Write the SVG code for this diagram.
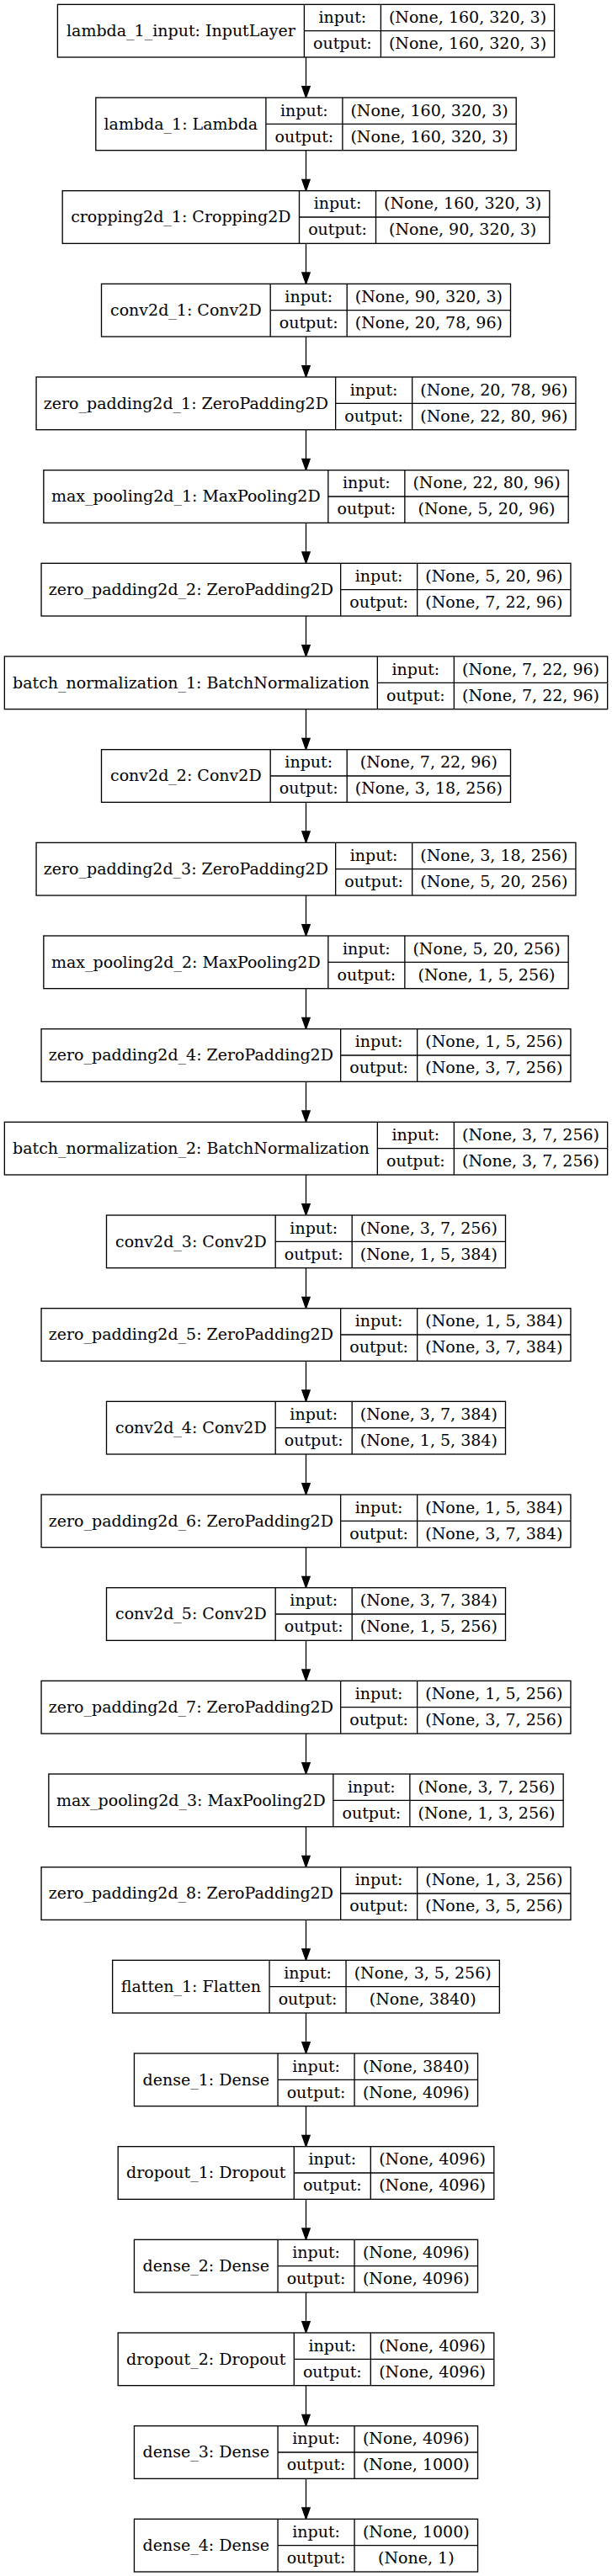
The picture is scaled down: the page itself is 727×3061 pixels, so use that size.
<svg xmlns="http://www.w3.org/2000/svg" width="727" height="3061" viewBox="0 0 727 3061">
<defs>
<style>
.n rect{fill:#fff;stroke:#000;stroke-width:1.33}
.n line{stroke:#000;stroke-width:1.33}
.n text{font-family:"DejaVu Serif","Liberation Serif",serif;font-size:19px;fill:#000;text-anchor:middle}
.e line{stroke:#000;stroke-width:1.33}
</style>
<marker id="ah" markerUnits="userSpaceOnUse" markerWidth="16" markerHeight="12" refX="0" refY="0" orient="auto" overflow="visible">
<path d="M0,-4.67 L13.33,0 L0,4.67 Z" fill="#000" stroke="#000" stroke-width="1.33"/>
</marker>
</defs>
<rect x="0" y="0" width="727" height="3061" fill="#fff"/>
<g id="edges" class="e">
<line x1="363.5" y1="68.0" x2="363.5" y2="102.67" marker-end="url(#ah)"/>
<line x1="363.5" y1="178.67" x2="363.5" y2="213.33" marker-end="url(#ah)"/>
<line x1="363.5" y1="289.33" x2="363.5" y2="324.0" marker-end="url(#ah)"/>
<line x1="363.5" y1="400.0" x2="363.5" y2="434.67" marker-end="url(#ah)"/>
<line x1="363.5" y1="510.67" x2="363.5" y2="545.33" marker-end="url(#ah)"/>
<line x1="363.5" y1="621.33" x2="363.5" y2="656.0" marker-end="url(#ah)"/>
<line x1="363.5" y1="732.0" x2="363.5" y2="766.67" marker-end="url(#ah)"/>
<line x1="363.5" y1="842.67" x2="363.5" y2="877.33" marker-end="url(#ah)"/>
<line x1="363.5" y1="953.33" x2="363.5" y2="988.0" marker-end="url(#ah)"/>
<line x1="363.5" y1="1064.0" x2="363.5" y2="1098.67" marker-end="url(#ah)"/>
<line x1="363.5" y1="1174.67" x2="363.5" y2="1209.33" marker-end="url(#ah)"/>
<line x1="363.5" y1="1285.33" x2="363.5" y2="1320.0" marker-end="url(#ah)"/>
<line x1="363.5" y1="1396.0" x2="363.5" y2="1430.67" marker-end="url(#ah)"/>
<line x1="363.5" y1="1506.67" x2="363.5" y2="1541.33" marker-end="url(#ah)"/>
<line x1="363.5" y1="1617.33" x2="363.5" y2="1652.0" marker-end="url(#ah)"/>
<line x1="363.5" y1="1728.0" x2="363.5" y2="1762.67" marker-end="url(#ah)"/>
<line x1="363.5" y1="1838.67" x2="363.5" y2="1873.33" marker-end="url(#ah)"/>
<line x1="363.5" y1="1949.33" x2="363.5" y2="1984.0" marker-end="url(#ah)"/>
<line x1="363.5" y1="2060.0" x2="363.5" y2="2094.67" marker-end="url(#ah)"/>
<line x1="363.5" y1="2170.67" x2="363.5" y2="2205.33" marker-end="url(#ah)"/>
<line x1="363.5" y1="2281.33" x2="363.5" y2="2316.0" marker-end="url(#ah)"/>
<line x1="363.5" y1="2392.0" x2="363.5" y2="2426.67" marker-end="url(#ah)"/>
<line x1="363.5" y1="2502.67" x2="363.5" y2="2537.33" marker-end="url(#ah)"/>
<line x1="363.5" y1="2613.33" x2="363.5" y2="2648.0" marker-end="url(#ah)"/>
<line x1="363.5" y1="2724.0" x2="363.5" y2="2758.67" marker-end="url(#ah)"/>
<line x1="363.5" y1="2834.67" x2="363.5" y2="2869.33" marker-end="url(#ah)"/>
<line x1="363.5" y1="2945.33" x2="363.5" y2="2980.0" marker-end="url(#ah)"/>
</g>

<g id="lambda_1_input" class="n" transform="translate(0,5.33)">
<rect x="68.4" y="0" width="590.2" height="62.67"/>
<line x1="361.4" y1="0" x2="361.4" y2="62.67"/><line x1="452.4" y1="0" x2="452.4" y2="62.67"/><line x1="361.4" y1="31.33" x2="658.6" y2="31.33"/>
<text x="214.9" y="37.5">lambda_1_input: InputLayer</text>
<text x="406.9" y="21.5">input:</text><text x="406.9" y="52.7">output:</text>
<text x="555.5" y="21.5">(None, 160, 320, 3)</text><text x="555.5" y="52.7">(None, 160, 320, 3)</text>
</g>

<g id="lambda_1" class="n" transform="translate(0,116.0)">
<rect x="113.8" y="0" width="499.4" height="62.67"/>
<line x1="315.9" y1="0" x2="315.9" y2="62.67"/><line x1="406.9" y1="0" x2="406.9" y2="62.67"/><line x1="315.9" y1="31.33" x2="613.2" y2="31.33"/>
<text x="214.85" y="37.5">lambda_1: Lambda</text>
<text x="361.4" y="21.5">input:</text><text x="361.4" y="52.7">output:</text>
<text x="510.05" y="21.5">(None, 160, 320, 3)</text><text x="510.05" y="52.7">(None, 160, 320, 3)</text>
</g>

<g id="cropping2d_1" class="n" transform="translate(0,226.67)">
<rect x="74.2" y="0" width="578.6" height="62.67"/>
<line x1="355.5" y1="0" x2="355.5" y2="62.67"/><line x1="446.5" y1="0" x2="446.5" y2="62.67"/><line x1="355.5" y1="31.33" x2="652.8" y2="31.33"/>
<text x="214.85" y="37.5">cropping2d_1: Cropping2D</text>
<text x="401" y="21.5">input:</text><text x="401" y="52.7">output:</text>
<text x="549.65" y="21.5">(None, 160, 320, 3)</text><text x="549.65" y="52.7">(None, 90, 320, 3)</text>
</g>

<g id="conv2d_1" class="n" transform="translate(0,337.33)">
<rect x="120.5" y="0" width="486" height="62.67"/>
<line x1="321.2" y1="0" x2="321.2" y2="62.67"/><line x1="412.2" y1="0" x2="412.2" y2="62.67"/><line x1="321.2" y1="31.33" x2="606.5" y2="31.33"/>
<text x="220.85" y="37.5">conv2d_1: Conv2D</text>
<text x="366.7" y="21.5">input:</text><text x="366.7" y="52.7">output:</text>
<text x="509.35" y="21.5">(None, 90, 320, 3)</text><text x="509.35" y="52.7">(None, 20, 78, 96)</text>
</g>

<g id="zero_padding2d_1" class="n" transform="translate(0,448.0)">
<rect x="43.05" y="0" width="640.9" height="62.67"/>
<line x1="398.65" y1="0" x2="398.65" y2="62.67"/><line x1="489.65" y1="0" x2="489.65" y2="62.67"/><line x1="398.65" y1="31.33" x2="683.95" y2="31.33"/>
<text x="220.85" y="37.5">zero_padding2d_1: ZeroPadding2D</text>
<text x="444.15" y="21.5">input:</text><text x="444.15" y="52.7">output:</text>
<text x="586.8" y="21.5">(None, 20, 78, 96)</text><text x="586.8" y="52.7">(None, 22, 80, 96)</text>
</g>

<g id="max_pooling2d_1" class="n" transform="translate(0,558.67)">
<rect x="51.85" y="0" width="623.3" height="62.67"/>
<line x1="389.85" y1="0" x2="389.85" y2="62.67"/><line x1="480.85" y1="0" x2="480.85" y2="62.67"/><line x1="389.85" y1="31.33" x2="675.15" y2="31.33"/>
<text x="220.85" y="37.5">max_pooling2d_1: MaxPooling2D</text>
<text x="435.35" y="21.5">input:</text><text x="435.35" y="52.7">output:</text>
<text x="578" y="21.5">(None, 22, 80, 96)</text><text x="578" y="52.7">(None, 5, 20, 96)</text>
</g>

<g id="zero_padding2d_2" class="n" transform="translate(0,669.33)">
<rect x="49.05" y="0" width="628.9" height="62.67"/>
<line x1="404.65" y1="0" x2="404.65" y2="62.67"/><line x1="495.65" y1="0" x2="495.65" y2="62.67"/><line x1="404.65" y1="31.33" x2="677.95" y2="31.33"/>
<text x="226.85" y="37.5">zero_padding2d_2: ZeroPadding2D</text>
<text x="450.15" y="21.5">input:</text><text x="450.15" y="52.7">output:</text>
<text x="586.8" y="21.5">(None, 5, 20, 96)</text><text x="586.8" y="52.7">(None, 7, 22, 96)</text>
</g>

<g id="batch_normalization_1" class="n" transform="translate(0,780.0)">
<rect x="5.35" y="0" width="716.3" height="62.67"/>
<line x1="448.35" y1="0" x2="448.35" y2="62.67"/><line x1="539.35" y1="0" x2="539.35" y2="62.67"/><line x1="448.35" y1="31.33" x2="721.65" y2="31.33"/>
<text x="226.85" y="37.5">batch_normalization_1: BatchNormalization</text>
<text x="493.85" y="21.5">input:</text><text x="493.85" y="52.7">output:</text>
<text x="630.5" y="21.5">(None, 7, 22, 96)</text><text x="630.5" y="52.7">(None, 7, 22, 96)</text>
</g>

<g id="conv2d_2" class="n" transform="translate(0,890.67)">
<rect x="120.5" y="0" width="486" height="62.67"/>
<line x1="321.2" y1="0" x2="321.2" y2="62.67"/><line x1="412.2" y1="0" x2="412.2" y2="62.67"/><line x1="321.2" y1="31.33" x2="606.5" y2="31.33"/>
<text x="220.85" y="37.5">conv2d_2: Conv2D</text>
<text x="366.7" y="21.5">input:</text><text x="366.7" y="52.7">output:</text>
<text x="509.35" y="21.5">(None, 7, 22, 96)</text><text x="509.35" y="52.7">(None, 3, 18, 256)</text>
</g>

<g id="zero_padding2d_3" class="n" transform="translate(0,1001.33)">
<rect x="43.05" y="0" width="640.9" height="62.67"/>
<line x1="398.65" y1="0" x2="398.65" y2="62.67"/><line x1="489.65" y1="0" x2="489.65" y2="62.67"/><line x1="398.65" y1="31.33" x2="683.95" y2="31.33"/>
<text x="220.85" y="37.5">zero_padding2d_3: ZeroPadding2D</text>
<text x="444.15" y="21.5">input:</text><text x="444.15" y="52.7">output:</text>
<text x="586.8" y="21.5">(None, 3, 18, 256)</text><text x="586.8" y="52.7">(None, 5, 20, 256)</text>
</g>

<g id="max_pooling2d_2" class="n" transform="translate(0,1112.0)">
<rect x="51.85" y="0" width="623.3" height="62.67"/>
<line x1="389.85" y1="0" x2="389.85" y2="62.67"/><line x1="480.85" y1="0" x2="480.85" y2="62.67"/><line x1="389.85" y1="31.33" x2="675.15" y2="31.33"/>
<text x="220.85" y="37.5">max_pooling2d_2: MaxPooling2D</text>
<text x="435.35" y="21.5">input:</text><text x="435.35" y="52.7">output:</text>
<text x="578" y="21.5">(None, 5, 20, 256)</text><text x="578" y="52.7">(None, 1, 5, 256)</text>
</g>

<g id="zero_padding2d_4" class="n" transform="translate(0,1222.67)">
<rect x="49.05" y="0" width="628.9" height="62.67"/>
<line x1="404.65" y1="0" x2="404.65" y2="62.67"/><line x1="495.65" y1="0" x2="495.65" y2="62.67"/><line x1="404.65" y1="31.33" x2="677.95" y2="31.33"/>
<text x="226.85" y="37.5">zero_padding2d_4: ZeroPadding2D</text>
<text x="450.15" y="21.5">input:</text><text x="450.15" y="52.7">output:</text>
<text x="586.8" y="21.5">(None, 1, 5, 256)</text><text x="586.8" y="52.7">(None, 3, 7, 256)</text>
</g>

<g id="batch_normalization_2" class="n" transform="translate(0,1333.33)">
<rect x="5.35" y="0" width="716.3" height="62.67"/>
<line x1="448.35" y1="0" x2="448.35" y2="62.67"/><line x1="539.35" y1="0" x2="539.35" y2="62.67"/><line x1="448.35" y1="31.33" x2="721.65" y2="31.33"/>
<text x="226.85" y="37.5">batch_normalization_2: BatchNormalization</text>
<text x="493.85" y="21.5">input:</text><text x="493.85" y="52.7">output:</text>
<text x="630.5" y="21.5">(None, 3, 7, 256)</text><text x="630.5" y="52.7">(None, 3, 7, 256)</text>
</g>

<g id="conv2d_3" class="n" transform="translate(0,1444.0)">
<rect x="126.5" y="0" width="474" height="62.67"/>
<line x1="327.2" y1="0" x2="327.2" y2="62.67"/><line x1="418.2" y1="0" x2="418.2" y2="62.67"/><line x1="327.2" y1="31.33" x2="600.5" y2="31.33"/>
<text x="226.85" y="37.5">conv2d_3: Conv2D</text>
<text x="372.7" y="21.5">input:</text><text x="372.7" y="52.7">output:</text>
<text x="509.35" y="21.5">(None, 3, 7, 256)</text><text x="509.35" y="52.7">(None, 1, 5, 384)</text>
</g>

<g id="zero_padding2d_5" class="n" transform="translate(0,1554.67)">
<rect x="49.05" y="0" width="628.9" height="62.67"/>
<line x1="404.65" y1="0" x2="404.65" y2="62.67"/><line x1="495.65" y1="0" x2="495.65" y2="62.67"/><line x1="404.65" y1="31.33" x2="677.95" y2="31.33"/>
<text x="226.85" y="37.5">zero_padding2d_5: ZeroPadding2D</text>
<text x="450.15" y="21.5">input:</text><text x="450.15" y="52.7">output:</text>
<text x="586.8" y="21.5">(None, 1, 5, 384)</text><text x="586.8" y="52.7">(None, 3, 7, 384)</text>
</g>

<g id="conv2d_4" class="n" transform="translate(0,1665.33)">
<rect x="126.5" y="0" width="474" height="62.67"/>
<line x1="327.2" y1="0" x2="327.2" y2="62.67"/><line x1="418.2" y1="0" x2="418.2" y2="62.67"/><line x1="327.2" y1="31.33" x2="600.5" y2="31.33"/>
<text x="226.85" y="37.5">conv2d_4: Conv2D</text>
<text x="372.7" y="21.5">input:</text><text x="372.7" y="52.7">output:</text>
<text x="509.35" y="21.5">(None, 3, 7, 384)</text><text x="509.35" y="52.7">(None, 1, 5, 384)</text>
</g>

<g id="zero_padding2d_6" class="n" transform="translate(0,1776.0)">
<rect x="49.05" y="0" width="628.9" height="62.67"/>
<line x1="404.65" y1="0" x2="404.65" y2="62.67"/><line x1="495.65" y1="0" x2="495.65" y2="62.67"/><line x1="404.65" y1="31.33" x2="677.95" y2="31.33"/>
<text x="226.85" y="37.5">zero_padding2d_6: ZeroPadding2D</text>
<text x="450.15" y="21.5">input:</text><text x="450.15" y="52.7">output:</text>
<text x="586.8" y="21.5">(None, 1, 5, 384)</text><text x="586.8" y="52.7">(None, 3, 7, 384)</text>
</g>

<g id="conv2d_5" class="n" transform="translate(0,1886.67)">
<rect x="126.5" y="0" width="474" height="62.67"/>
<line x1="327.2" y1="0" x2="327.2" y2="62.67"/><line x1="418.2" y1="0" x2="418.2" y2="62.67"/><line x1="327.2" y1="31.33" x2="600.5" y2="31.33"/>
<text x="226.85" y="37.5">conv2d_5: Conv2D</text>
<text x="372.7" y="21.5">input:</text><text x="372.7" y="52.7">output:</text>
<text x="509.35" y="21.5">(None, 3, 7, 384)</text><text x="509.35" y="52.7">(None, 1, 5, 256)</text>
</g>

<g id="zero_padding2d_7" class="n" transform="translate(0,1997.33)">
<rect x="49.05" y="0" width="628.9" height="62.67"/>
<line x1="404.65" y1="0" x2="404.65" y2="62.67"/><line x1="495.65" y1="0" x2="495.65" y2="62.67"/><line x1="404.65" y1="31.33" x2="677.95" y2="31.33"/>
<text x="226.85" y="37.5">zero_padding2d_7: ZeroPadding2D</text>
<text x="450.15" y="21.5">input:</text><text x="450.15" y="52.7">output:</text>
<text x="586.8" y="21.5">(None, 1, 5, 256)</text><text x="586.8" y="52.7">(None, 3, 7, 256)</text>
</g>

<g id="max_pooling2d_3" class="n" transform="translate(0,2108.0)">
<rect x="57.85" y="0" width="611.3" height="62.67"/>
<line x1="395.85" y1="0" x2="395.85" y2="62.67"/><line x1="486.85" y1="0" x2="486.85" y2="62.67"/><line x1="395.85" y1="31.33" x2="669.15" y2="31.33"/>
<text x="226.85" y="37.5">max_pooling2d_3: MaxPooling2D</text>
<text x="441.35" y="21.5">input:</text><text x="441.35" y="52.7">output:</text>
<text x="578" y="21.5">(None, 3, 7, 256)</text><text x="578" y="52.7">(None, 1, 3, 256)</text>
</g>

<g id="zero_padding2d_8" class="n" transform="translate(0,2218.67)">
<rect x="49.05" y="0" width="628.9" height="62.67"/>
<line x1="404.65" y1="0" x2="404.65" y2="62.67"/><line x1="495.65" y1="0" x2="495.65" y2="62.67"/><line x1="404.65" y1="31.33" x2="677.95" y2="31.33"/>
<text x="226.85" y="37.5">zero_padding2d_8: ZeroPadding2D</text>
<text x="450.15" y="21.5">input:</text><text x="450.15" y="52.7">output:</text>
<text x="586.8" y="21.5">(None, 1, 3, 256)</text><text x="586.8" y="52.7">(None, 3, 5, 256)</text>
</g>

<g id="flatten_1" class="n" transform="translate(0,2329.33)">
<rect x="133.65" y="0" width="459.7" height="62.67"/>
<line x1="320.05" y1="0" x2="320.05" y2="62.67"/><line x1="411.05" y1="0" x2="411.05" y2="62.67"/><line x1="320.05" y1="31.33" x2="593.35" y2="31.33"/>
<text x="226.85" y="37.5">flatten_1: Flatten</text>
<text x="365.55" y="21.5">input:</text><text x="365.55" y="52.7">output:</text>
<text x="502.2" y="21.5">(None, 3, 5, 256)</text><text x="502.2" y="52.7">(None, 3840)</text>
</g>

<g id="dense_1" class="n" transform="translate(0,2440.0)">
<rect x="159.45" y="0" width="408.1" height="62.67"/>
<line x1="330.05" y1="0" x2="330.05" y2="62.67"/><line x1="421.05" y1="0" x2="421.05" y2="62.67"/><line x1="330.05" y1="31.33" x2="567.55" y2="31.33"/>
<text x="244.75" y="37.5">dense_1: Dense</text>
<text x="375.55" y="21.5">input:</text><text x="375.55" y="52.7">output:</text>
<text x="494.3" y="21.5">(None, 3840)</text><text x="494.3" y="52.7">(None, 4096)</text>
</g>

<g id="dropout_1" class="n" transform="translate(0,2550.67)">
<rect x="140.2" y="0" width="446.6" height="62.67"/>
<line x1="349.3" y1="0" x2="349.3" y2="62.67"/><line x1="440.3" y1="0" x2="440.3" y2="62.67"/><line x1="349.3" y1="31.33" x2="586.8" y2="31.33"/>
<text x="244.75" y="37.5">dropout_1: Dropout</text>
<text x="394.8" y="21.5">input:</text><text x="394.8" y="52.7">output:</text>
<text x="513.55" y="21.5">(None, 4096)</text><text x="513.55" y="52.7">(None, 4096)</text>
</g>

<g id="dense_2" class="n" transform="translate(0,2661.33)">
<rect x="159.45" y="0" width="408.1" height="62.67"/>
<line x1="330.05" y1="0" x2="330.05" y2="62.67"/><line x1="421.05" y1="0" x2="421.05" y2="62.67"/><line x1="330.05" y1="31.33" x2="567.55" y2="31.33"/>
<text x="244.75" y="37.5">dense_2: Dense</text>
<text x="375.55" y="21.5">input:</text><text x="375.55" y="52.7">output:</text>
<text x="494.3" y="21.5">(None, 4096)</text><text x="494.3" y="52.7">(None, 4096)</text>
</g>

<g id="dropout_2" class="n" transform="translate(0,2772.0)">
<rect x="140.2" y="0" width="446.6" height="62.67"/>
<line x1="349.3" y1="0" x2="349.3" y2="62.67"/><line x1="440.3" y1="0" x2="440.3" y2="62.67"/><line x1="349.3" y1="31.33" x2="586.8" y2="31.33"/>
<text x="244.75" y="37.5">dropout_2: Dropout</text>
<text x="394.8" y="21.5">input:</text><text x="394.8" y="52.7">output:</text>
<text x="513.55" y="21.5">(None, 4096)</text><text x="513.55" y="52.7">(None, 4096)</text>
</g>

<g id="dense_3" class="n" transform="translate(0,2882.67)">
<rect x="159.45" y="0" width="408.1" height="62.67"/>
<line x1="330.05" y1="0" x2="330.05" y2="62.67"/><line x1="421.05" y1="0" x2="421.05" y2="62.67"/><line x1="330.05" y1="31.33" x2="567.55" y2="31.33"/>
<text x="244.75" y="37.5">dense_3: Dense</text>
<text x="375.55" y="21.5">input:</text><text x="375.55" y="52.7">output:</text>
<text x="494.3" y="21.5">(None, 4096)</text><text x="494.3" y="52.7">(None, 1000)</text>
</g>

<g id="dense_4" class="n" transform="translate(0,2993.33)">
<rect x="159.45" y="0" width="408.1" height="62.67"/>
<line x1="330.05" y1="0" x2="330.05" y2="62.67"/><line x1="421.05" y1="0" x2="421.05" y2="62.67"/><line x1="330.05" y1="31.33" x2="567.55" y2="31.33"/>
<text x="244.75" y="37.5">dense_4: Dense</text>
<text x="375.55" y="21.5">input:</text><text x="375.55" y="52.7">output:</text>
<text x="494.3" y="21.5">(None, 1000)</text><text x="494.3" y="52.7">(None, 1)</text>
</g>
</svg>
